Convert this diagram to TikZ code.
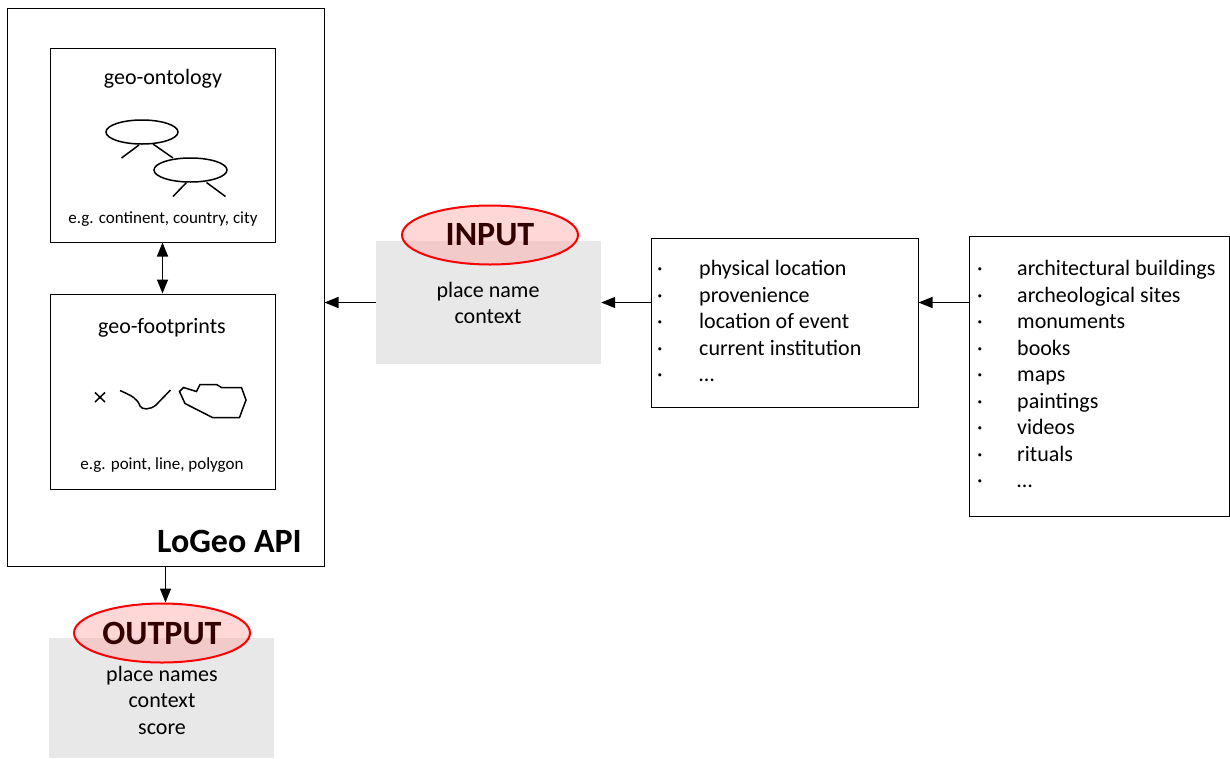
\documentclass[tikz,border=0pt]{standalone}
\usepackage{fontspec}
\setmainfont{Carlito}
\usetikzlibrary{positioning, arrows.meta, shapes}

\begin{document}
\begin{tikzpicture}[x=1pt, y=-1pt,
  box/.style={rectangle, draw, line width=1pt, inner sep=0pt},
  grey/.style={rectangle, fill=black!9, inner sep=0pt},
  tag/.style={ellipse, draw=red, line width=2pt, fill=red!35, fill opacity=0.45, text opacity=1, minimum width=176pt, minimum height=59pt, inner sep=0pt, text=black!80!red, font=\fontsize{34}{40}\selectfont\bfseries},
  txt/.style={inner sep=0pt, align=center, font=\fontsize{22}{26.5}\selectfont},
  item/.style={txt, text height=16pt, text depth=5pt},
  small/.style={inner sep=0pt, font=\fontsize{17}{20}\selectfont},
  arr/.style={-{Triangle[length=14pt, width=11pt]}, line width=1.3pt},
  icon/.style={line width=1.5pt}]
\useasboundingbox (0,0) rectangle (1230,758);

% LoGeo API
\node[box, minimum width=317pt, minimum height=558pt] (api) at (165.5,287) {};
\node[box, minimum width=225pt, minimum height=194pt] (onto) at (162.5,145) {};
\node[box, minimum width=225pt, minimum height=195pt] (foot) at (162.5,391.5) {};
\node[txt] (ontotitle) at (163,79) {geo-ontology};
\node[small] (ontoex) at (163,219) {e.g. continent, country, city};
\node[txt] (foottitle) at (162,328) {geo-footprints};
\node[small] (footex) at (162,465) {e.g. point, line, polygon};
\node[inner sep=0pt, anchor=east, font=\fontsize{34}{40}\selectfont\bfseries] (apiname) at (302,541) {LoGeo API};
\draw[{Triangle[length=14pt, width=11pt]}-{Triangle[length=14pt, width=11pt]}, line width=1.3pt] (onto.south) -- (foot.north);

% ontology icon
\draw[icon] (142,132) ellipse [x radius=36, y radius=12];
\draw[icon] (139,145) -- (121.5,158) (153,144) -- (173,158);
\draw[icon] (190.5,170) ellipse [x radius=36.5, y radius=12];
\draw[icon] (186.5,182.5) -- (173,196.5) (206.5,182.5) -- (225.5,196.5);

% footprint icons
\draw[icon] (95,392.5) -- (105,402) (95,402) -- (105,392.5);
\draw[icon] (120,390.5) .. controls (132,396) and (137,398) .. (140,406)
  .. controls (142,410) and (150,410) .. (156,405) -- (170.5,390);
\draw[icon] (179.5,391.5) -- (183.5,387.5) -- (196.5,391.5) -- (200,384.5) -- (216.5,384.5)
  -- (221.5,387.5) -- (241.5,387.5) -- (246,400) -- (239.5,417.5) -- (212.5,417.5)
  -- (185,403.5) -- cycle;

% INPUT
\node[grey, minimum width=225pt, minimum height=123pt] (ingrey) at (488.5,302.5) {};
\node[tag] (intag) at (490,235) {INPUT};
\node[txt] (intext) at (488,303) {place name\\context};

% OUTPUT
\node[grey, minimum width=225pt, minimum height=120pt] (outgrey) at (161.5,698) {};
\node[tag] (outtag) at (162,633) {OUTPUT};
\node[txt] (outtext) at (162,700) {place names\\context\\score};

% attribute lists
\node[box, minimum width=267pt, minimum height=169pt] (mid) at (784.5,322.5) {};
\node[box, minimum width=260pt, minimum height=280pt] (right) at (1099,376) {};
\foreach \t [count=\i] in {physical location, provenience, location of event, current institution, \ldots} {
  \node[item] (mdot\i) at (660,270+26.5*\i-26.5) {·};
  \node[item, anchor=west] (mitem\i) at (699,270+26.5*\i-26.5) {\t};
}
\foreach \t [count=\i] in {architectural buildings, archeological sites, monuments, books, maps, paintings, videos, rituals, \ldots} {
  \node[item] (rdot\i) at (980,270+26.5*\i-26.5) {·};
  \node[item, anchor=west] (ritem\i) at (1017,270+26.5*\i-26.5) {\t};
}

% connectors
\draw[arr] (right.west |- ingrey) -- (mid.east |- ingrey);
\draw[arr] (mid.west |- ingrey) -- (ingrey.east);
\draw[arr] (ingrey.west) -- (api.east |- ingrey);
\draw[arr] (api.south) -- (api.south |- outtag.north);
\end{tikzpicture}
\end{document}
